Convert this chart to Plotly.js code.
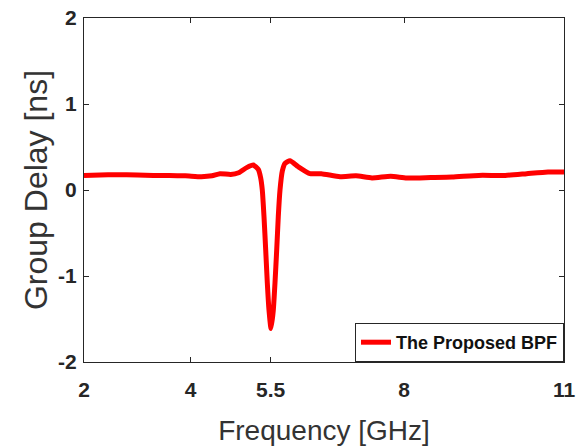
<!DOCTYPE html>
<html>
<head>
<meta charset="utf-8">
<script src="https://cdn.plot.ly/plotly-3.0.1.min.js"></script>
<style>html,body{margin:0;padding:0;background:#fff;}#chart{width:585px;height:446px;}</style>
</head>
<body>
<div id="chart"></div>
<script>
const freqGHz = [2.0, 2.3, 2.6, 3.0, 3.3, 3.6, 3.9, 4.2, 4.4, 4.55, 4.75, 4.9, 5.05, 5.174, 5.268, 5.313, 5.343, 5.375, 5.407, 5.437, 5.469, 5.506, 5.549, 5.581, 5.613, 5.643, 5.675, 5.718, 5.769, 5.862, 6.018, 6.237, 6.45, 6.8, 7.1, 7.4, 7.75, 8.05, 8.5, 8.9, 9.4, 9.9, 10.3, 10.7, 11.0];
const groupDelayNs = [0.17, 0.175, 0.178, 0.175, 0.17, 0.168, 0.165, 0.155, 0.165, 0.19, 0.18, 0.20, 0.26, 0.29, 0.24, 0.14, 0.0, -0.31, -0.70, -1.08, -1.40, -1.61, -1.40, -1.08, -0.70, -0.31, 0.0, 0.22, 0.31, 0.34, 0.27, 0.19, 0.19, 0.155, 0.165, 0.14, 0.16, 0.14, 0.145, 0.15, 0.17, 0.17, 0.19, 0.21, 0.21];
const xTicks = [2, 4, 5.5, 8, 11];
const yTicks = [-2, -1, 0, 1, 2];
const seriesName = 'The Proposed BPF';

const fontFam = 'Liberation Sans, Arial, Helvetica, sans-serif';
const trace = {
  x: freqGHz, y: groupDelayNs, type: 'scatter', mode: 'lines', name: seriesName,
  line: {color: '#ff0000', width: 5, shape: 'spline', smoothing: 0.5}
};
const axisCommon = {
  showgrid: false, zeroline: false, showline: true, linecolor: '#262626', linewidth: 1,
  mirror: 'ticks', ticks: 'inside', ticklen: 5, tickcolor: '#262626', tickwidth: 1,
  tickfont: {family: fontFam, size: 21, color: '#262626', weight: 'bold'}
};
const layout = {
  width: 585, height: 446,
  margin: {l: 84, r: 21, t: 18, b: 84},
  paper_bgcolor: '#fff', plot_bgcolor: '#fff',
  showlegend: true,
  legend: {x: 1, y: 0, xanchor: 'right', yanchor: 'bottom', bgcolor: '#fff',
    bordercolor: '#262626', borderwidth: 1,
    font: {family: fontFam, size: 18, color: '#111', weight: 'bold'}},
  xaxis: Object.assign({}, axisCommon, {
    range: [2, 11], tickvals: xTicks, ticktext: xTicks.map(String), ticklabelstandoff: 9,
    title: {text: 'Frequency [GHz]', font: {family: fontFam, size: 28, color: '#333'}, standoff: 20}
  }),
  yaxis: Object.assign({}, axisCommon, {
    range: [-2, 2], tickvals: yTicks, ticktext: yTicks.map(String), ticklabelstandoff: 2,
    title: {text: 'Group Delay [ns]', font: {family: fontFam, size: 32, color: '#333'}, standoff: 0}
  })
};
Plotly.newPlot('chart', [trace], layout, {displayModeBar: false, staticPlot: true});
</script>
</body>
</html>
